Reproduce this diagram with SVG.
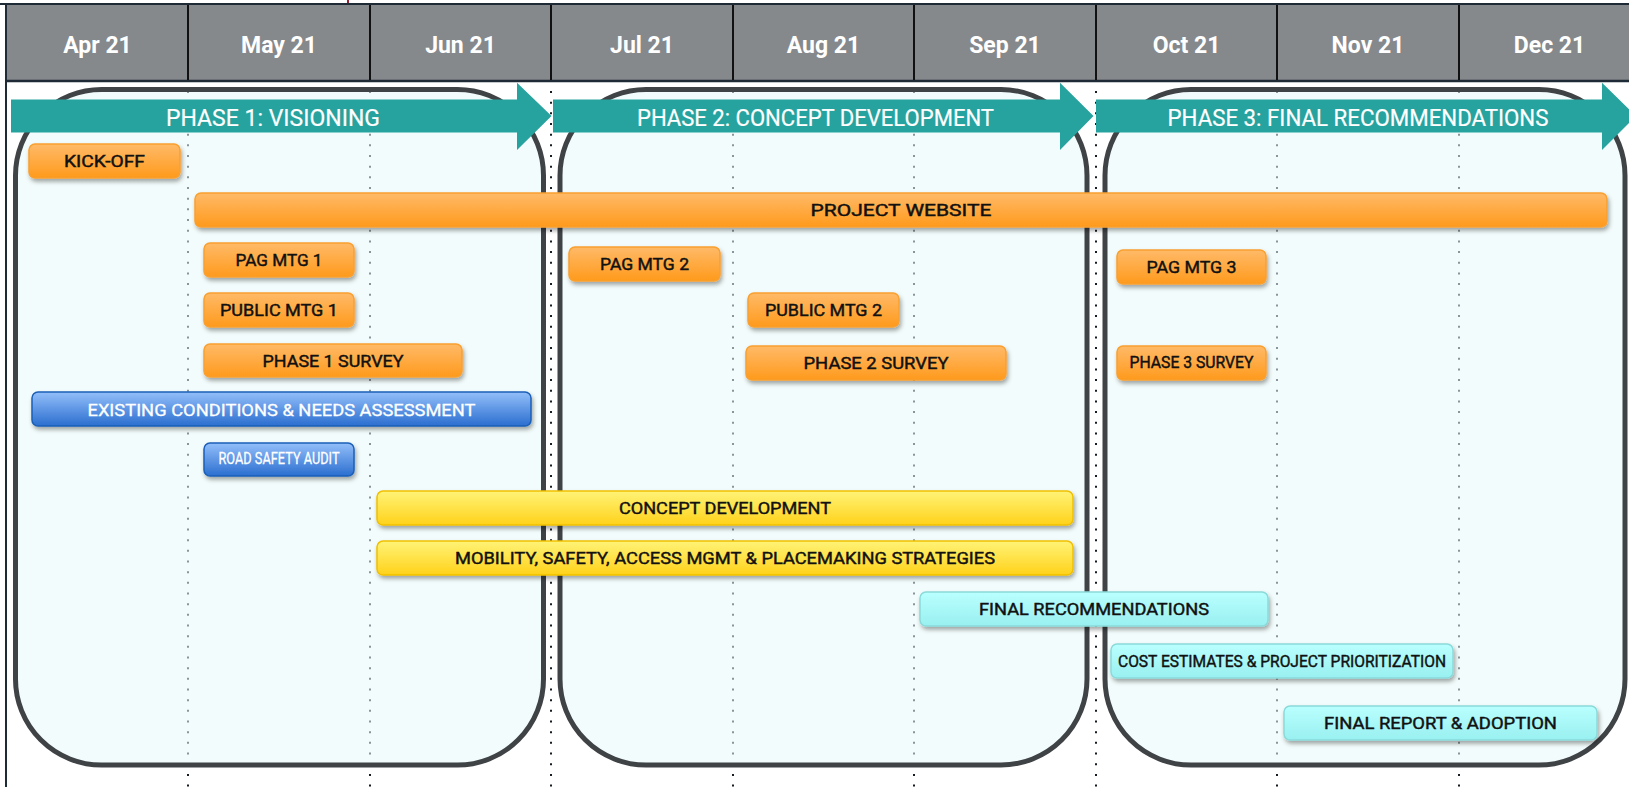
<svg xmlns="http://www.w3.org/2000/svg" width="1629" height="787" viewBox="0 0 1629 787">
<defs>
<linearGradient id="gOrange" x1="0" y1="0" x2="0" y2="1">
<stop offset="0" stop-color="#FFBA68"/><stop offset="1" stop-color="#FF9A1C"/>
</linearGradient>
<linearGradient id="gBlue" x1="0" y1="0" x2="0" y2="1">
<stop offset="0" stop-color="#93BFFA"/><stop offset="1" stop-color="#2B6ECF"/>
</linearGradient>
<linearGradient id="gYellow" x1="0" y1="0" x2="0" y2="1">
<stop offset="0" stop-color="#FFF377"/><stop offset="1" stop-color="#FFD21A"/>
</linearGradient>
<linearGradient id="gCyan" x1="0" y1="0" x2="0" y2="1">
<stop offset="0" stop-color="#BAFFFF"/><stop offset="1" stop-color="#99F0F0"/>
</linearGradient>
<filter id="shadow" x="-5%" y="-30%" width="110%" height="170%">
<feDropShadow dx="1.5" dy="3" stdDeviation="2" flood-color="#000" flood-opacity="0.35"/>
</filter>
<style>
.month{font-family:Roboto,"Liberation Sans",sans-serif;font-weight:700;font-size:23px;fill:#fff;text-anchor:middle}
.phase{font-family:Roboto,"Liberation Sans",sans-serif;font-weight:400;font-size:23px;fill:#fff;text-anchor:middle;stroke:#fff;stroke-width:0.2}
.lbl{font-family:Roboto,"Liberation Sans",sans-serif;font-weight:400;font-size:17px;fill:#111;stroke:#111;stroke-width:0.45;text-anchor:middle}
.wl{fill:#fff;stroke:#fff;stroke-width:0.3}
.box{filter:url(#shadow);stroke-width:1.5}
.or{fill:url(#gOrange);stroke:#F9A030}
.bl{fill:url(#gBlue);stroke:#1A5FB8}
.ye{fill:url(#gYellow);stroke:#F0C000}
.cy{fill:url(#gCyan);stroke:#8ADADA}
.panel{fill:rgb(233,250,250);fill-opacity:0.55;stroke:#3F4346;stroke-width:5}
.dot{stroke:#151c24;stroke-width:2;stroke-dasharray:2 8.67;fill:none}
.arrow{fill:#26A39E}
</style>
</defs>
<rect x="0" y="0" width="1629" height="787" fill="#fff"/>
<g id="header">
<rect x="6" y="4" width="1623" height="77" fill="#85898C"/>
<line x1="0" y1="4" x2="1629" y2="4" stroke="#1E2B36" stroke-width="2"/>
<line x1="6" y1="81" x2="1629" y2="81" stroke="#1E2B36" stroke-width="2.5"/>
<line x1="6" y1="3" x2="6" y2="787" stroke="#1E2B36" stroke-width="2"/>
<g stroke="#111" stroke-width="2">
<line x1="188" y1="5" x2="188" y2="80"/><line x1="370" y1="5" x2="370" y2="80"/>
<line x1="551" y1="5" x2="551" y2="80"/><line x1="733" y1="5" x2="733" y2="80"/>
<line x1="914" y1="5" x2="914" y2="80"/><line x1="1096" y1="5" x2="1096" y2="80"/>
<line x1="1277" y1="5" x2="1277" y2="80"/><line x1="1459" y1="5" x2="1459" y2="80"/>
</g>
<line x1="348" y1="0" x2="348" y2="3" stroke="#9B1B30" stroke-width="2"/>
<text class="month" x="97.5" y="53">Apr 21</text>
<text class="month" x="279" y="53">May 21</text>
<text class="month" x="460.5" y="53">Jun 21</text>
<text class="month" x="642" y="53">Jul 21</text>
<text class="month" x="823.5" y="53">Aug 21</text>
<text class="month" x="1005" y="53">Sep 21</text>
<text class="month" x="1186.5" y="53">Oct 21</text>
<text class="month" x="1368" y="53">Nov 21</text>
<text class="month" x="1549.5" y="53">Dec 21</text>
</g>
<g id="grid">
<line class="dot" x1="188" y1="91" x2="188" y2="787"/>
<line class="dot" x1="370" y1="91" x2="370" y2="787"/>
<line class="dot" x1="551" y1="91" x2="551" y2="787"/>
<line class="dot" x1="733" y1="91" x2="733" y2="787"/>
<line class="dot" x1="914" y1="91" x2="914" y2="787"/>
<line class="dot" x1="1096" y1="91" x2="1096" y2="787"/>
<line class="dot" x1="1277" y1="91" x2="1277" y2="787"/>
<line class="dot" x1="1459" y1="91" x2="1459" y2="787"/>
</g>
<g id="phase-panels">
<rect id="panel1" class="panel" x="15.5" y="89.5" width="528" height="675.5" rx="86"/>
<rect id="panel2" class="panel" x="560" y="89.5" width="527" height="675.5" rx="86"/>
<rect id="panel3" class="panel" x="1105" y="89.5" width="520" height="675.5" rx="86"/>
</g>
<g id="phase1">
<polygon class="arrow" points="11,99.5 517,99.5 517,82.7 551.5,116 517,150 517,132.5 11,132.5"/>
<text class="phase" x="273" y="126" textLength="214" lengthAdjust="spacingAndGlyphs">PHASE 1: VISIONING</text>
</g>
<g id="phase2">
<polygon class="arrow" points="553,99.5 1060,99.5 1060,82.7 1093.5,116 1060,150 1060,132.5 553,132.5"/>
<text class="phase" x="815.5" y="126" textLength="357" lengthAdjust="spacingAndGlyphs">PHASE 2: CONCEPT DEVELOPMENT</text>
</g>
<g id="phase3">
<polygon class="arrow" points="1096,99.5 1602,99.5 1602,82.7 1636,116 1602,150 1602,132.5 1096,132.5"/>
<text class="phase" x="1358" y="126" textLength="381" lengthAdjust="spacingAndGlyphs">PHASE 3: FINAL RECOMMENDATIONS</text>
</g>
<g id="kick-off">
<rect class="box or" x="29" y="144" width="151" height="34" rx="6"/>
<text class="lbl" x="104.5" y="167" textLength="81" lengthAdjust="spacingAndGlyphs">KICK-OFF</text>
</g>
<g id="project-website">
<rect class="box or" x="195" y="193" width="1412" height="34" rx="6"/>
<text class="lbl" x="901" y="216" textLength="181" lengthAdjust="spacingAndGlyphs">PROJECT WEBSITE</text>
</g>
<g id="pag-mtg-1">
<rect class="box or" x="204" y="243" width="150" height="34" rx="6"/>
<text class="lbl" x="279" y="266" textLength="87" lengthAdjust="spacingAndGlyphs">PAG MTG 1</text>
</g>
<g id="public-mtg-1">
<rect class="box or" x="204" y="293" width="150" height="34" rx="6"/>
<text class="lbl" x="279" y="316" textLength="118" lengthAdjust="spacingAndGlyphs">PUBLIC MTG 1</text>
</g>
<g id="phase-1-survey">
<rect class="box or" x="204" y="344" width="258" height="33" rx="6"/>
<text class="lbl" x="333" y="366.5" textLength="141" lengthAdjust="spacingAndGlyphs">PHASE 1 SURVEY</text>
</g>
<g id="existing-conditions">
<rect class="box bl" x="32" y="392" width="499" height="34" rx="6"/>
<text class="lbl wl" x="281.5" y="415.5" font-size="18" textLength="388" lengthAdjust="spacingAndGlyphs">EXISTING CONDITIONS &amp; NEEDS ASSESSMENT</text>
</g>
<g id="road-safety-audit">
<rect class="box bl" x="204" y="443" width="150" height="33" rx="6"/>
<text class="lbl wl" x="279" y="464" font-size="13" textLength="121" lengthAdjust="spacingAndGlyphs">ROAD SAFETY AUDIT</text>
</g>
<g id="concept-development">
<rect class="box ye" x="377" y="491" width="696" height="34" rx="6"/>
<text class="lbl" x="725" y="514" textLength="212" lengthAdjust="spacingAndGlyphs">CONCEPT DEVELOPMENT</text>
</g>
<g id="strategies">
<rect class="box ye" x="377" y="541" width="696" height="34" rx="6"/>
<text class="lbl" x="725" y="564" textLength="540" lengthAdjust="spacingAndGlyphs">MOBILITY, SAFETY, ACCESS MGMT &amp; PLACEMAKING STRATEGIES</text>
</g>
<g id="final-recommendations">
<rect class="box cy" x="920" y="592" width="348" height="34" rx="6"/>
<text class="lbl" x="1094" y="615" textLength="230" lengthAdjust="spacingAndGlyphs">FINAL RECOMMENDATIONS</text>
</g>
<g id="cost-estimates">
<rect class="box cy" x="1111" y="644" width="342" height="34" rx="6"/>
<text class="lbl" x="1282" y="666.5" font-size="15" textLength="328" lengthAdjust="spacingAndGlyphs">COST ESTIMATES &amp; PROJECT PRIORITIZATION</text>
</g>
<g id="final-report">
<rect class="box cy" x="1284" y="706" width="313" height="34" rx="6"/>
<text class="lbl" x="1440.5" y="729" textLength="233" lengthAdjust="spacingAndGlyphs">FINAL REPORT &amp; ADOPTION</text>
</g>
<g id="pag-mtg-2">
<rect class="box or" x="569" y="247" width="151" height="34" rx="6"/>
<text class="lbl" x="644.5" y="270" textLength="89" lengthAdjust="spacingAndGlyphs">PAG MTG 2</text>
</g>
<g id="public-mtg-2">
<rect class="box or" x="748" y="293" width="151" height="34" rx="6"/>
<text class="lbl" x="823.5" y="316" textLength="117" lengthAdjust="spacingAndGlyphs">PUBLIC MTG 2</text>
</g>
<g id="phase-2-survey">
<rect class="box or" x="746" y="346" width="260" height="34" rx="6"/>
<text class="lbl" x="876" y="369" textLength="145" lengthAdjust="spacingAndGlyphs">PHASE 2 SURVEY</text>
</g>
<g id="pag-mtg-3">
<rect class="box or" x="1117" y="250" width="149" height="34" rx="6"/>
<text class="lbl" x="1191.5" y="273" textLength="90" lengthAdjust="spacingAndGlyphs">PAG MTG 3</text>
</g>
<g id="phase-3-survey">
<rect class="box or" x="1117" y="346" width="149" height="34" rx="6"/>
<text class="lbl" x="1191.5" y="368" font-size="14" textLength="124" lengthAdjust="spacingAndGlyphs">PHASE 3 SURVEY</text>
</g>
</svg>
